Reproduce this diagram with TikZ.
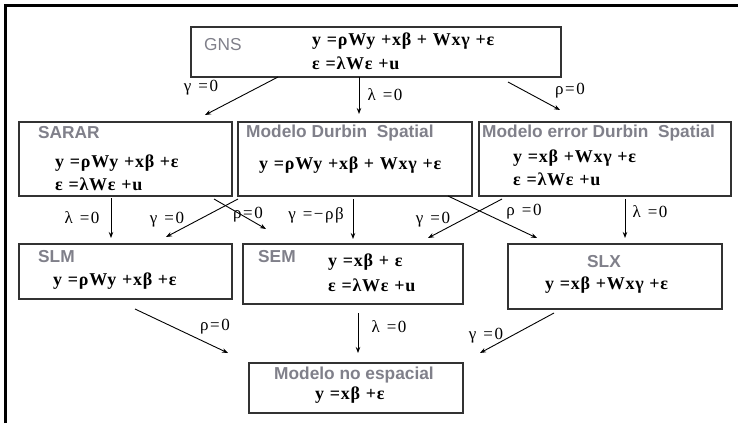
\documentclass[tikz,border=0pt]{standalone}
\usepackage{fontspec}
\setmainfont{Liberation Serif}
\newfontfamily\tsans{Liberation Sans}
\newfontfamily\eqf[LetterSpace=4,WordSpace=1.1]{Liberation Serif}
\newfontfamily\lblf[LetterSpace=9,WordSpace=1.2]{Liberation Serif}
\usetikzlibrary{arrows.meta}
\definecolor{ttlgray}{RGB}{128,128,138}
\definecolor{bxline}{RGB}{50,50,50}
\begin{document}
\begin{tikzpicture}[x=1pt,y=-1pt,
  box/.style={draw=bxline, line width=1.1pt, inner sep=0pt, outer sep=0pt},
  ttl/.style={anchor=west, inner sep=0pt, text=ttlgray, font=\tsans\bfseries\fontsize{17.3}{19}\selectfont},
  ttlr/.style={anchor=west, inner sep=0pt, text=ttlgray, font=\tsans\fontsize{17.3}{19}\selectfont},
  eq/.style={anchor=west, inner sep=0pt, font=\eqf\bfseries\fontsize{18}{20}\selectfont},
  lbl/.style={inner sep=0pt, font=\lblf\fontsize{17}{19}\selectfont},
  arr/.style={-{Stealth[length=6pt,width=4.5pt]}, line width=0.9pt}]
\useasboundingbox (0,0) rectangle (738,423);
\fill[white] (0,0) rectangle (738,423);
\draw[line width=3pt] (5.5,423) -- (5.5,5.5) -- (738,5.5);

% boxes
\node[box, minimum width=370pt, minimum height=50pt] (gns) at (376,52) {};
\node[box, minimum width=213pt, minimum height=74pt] (sarar) at (125.5,159) {};
\node[box, minimum width=234pt, minimum height=74pt] (durbin) at (355,159) {};
\node[box, minimum width=252pt, minimum height=74pt] (edurbin) at (605,159) {};
\node[box, minimum width=213pt, minimum height=55pt] (slm) at (125.5,271.5) {};
\node[box, minimum width=220pt, minimum height=60pt] (sem) at (353,274) {};
\node[box, minimum width=214pt, minimum height=65pt] (slx) at (615,276.5) {};
\node[box, minimum width=214pt, minimum height=50pt] (nonsp) at (356,388) {};

% texts
\node[ttlr] (tgns) at (204,45) {GNS};
\node[eq] (gnse1) at (312,41) {y =ρWy +xβ + Wxγ +ε};
\node[eq] (gnse2) at (312,63) {ε =λWε +u};

\node[ttl] (tsarar) at (38,133) {SARAR};
\node[eq] (sarare1) at (55,163) {y =ρWy +xβ +ε};
\node[eq] (sarare2) at (55,184) {ε =λWε +u};

\node[ttl] (tdurbin) at (246,133) {Modelo Durbin\ \ Spatial};
\node[eq] (durbine1) at (259,165) {y =ρWy +xβ + Wxγ +ε};

\node[ttl] (tedurbin) at (482,133) {Modelo error Durbin\ \ Spatial};
\node[eq] (edurbine1) at (513,158) {y =xβ +Wxγ +ε};
\node[eq] (edurbine2) at (513,179) {ε =λWε +u};

\node[ttl] (tslm) at (38,257) {SLM};
\node[eq] (slme1) at (53,281) {y =ρWy +xβ +ε};

\node[ttl] (tsem) at (258,257) {SEM};
\node[eq] (seme1) at (328,262) {y =xβ + ε};
\node[eq] (seme2) at (328,285) {ε =λWε +u};

\node[ttl] (tslx) at (587,262) {SLX};
\node[eq] (slxe1) at (545,285) {y =xβ +Wxγ +ε};

\node[ttl] (tnonsp) at (274,375) {Modelo no espacial};
\node[eq] (nonspe1) at (315,395) {y =xβ +ε};

% arrows
\draw[arr] ([xshift=87pt]gns.south west) -- ([xshift=186pt,yshift=7pt]sarar.north west);
\draw[arr] ([xshift=168pt]gns.south west) -- ([xshift=121pt,yshift=8pt]durbin.north west);
\draw[arr] ([xshift=317pt,yshift=-5pt]gns.south west) -- ([xshift=81pt,yshift=12pt]edurbin.north west);

\draw[arr] ([xshift=92pt,yshift=-2pt]sarar.south west) -- ([xshift=92pt,yshift=6pt]slm.north west);
\draw[arr] ([yshift=-3pt]durbin.south west) -- ([xshift=147pt,yshift=7pt]slm.north west);
\draw[arr] ([xshift=195pt,yshift=-3pt]sarar.south west) -- ([xshift=23pt,yshift=15pt]sem.north west);
\draw[arr] ([xshift=115pt,yshift=-3pt]durbin.south west) -- ([xshift=110pt,yshift=5pt]sem.north west);
\draw[arr] ([xshift=210pt]durbin.south west) -- ([xshift=29pt,yshift=6pt]slx.north west);
\draw[arr] ([xshift=23pt,yshift=-3pt]edurbin.south west) -- ([xshift=185pt,yshift=6pt]sem.north west);
\draw[arr] ([xshift=146pt,yshift=-3pt]edurbin.south west) -- ([xshift=117pt,yshift=6pt]slx.north west);

\draw[arr] ([xshift=116pt,yshift=-10pt]slm.south west) -- ([xshift=-21pt,yshift=10pt]nonsp.north west);
\draw[arr] ([xshift=115pt,yshift=-9pt]sem.south west) -- ([xshift=109pt,yshift=10pt]nonsp.north west);
\draw[arr] ([xshift=46pt,yshift=-4pt]slx.south west) -- ([xshift=231pt,yshift=10pt]nonsp.north west);

% labels
\node[lbl] (l1) at (201,88) {γ =0};
\node[lbl] (l2) at (385,95) {λ =0};
\node[lbl] (l3) at (570,91) {ρ=0};
\node[lbl] (l4) at (82,218) {λ =0};
\node[lbl] (l5) at (167,220) {γ =0};
\node[lbl] (l6) at (248,215) {ρ=0};
\node[lbl] (l7) at (316,215) {γ =−ρβ};
\node[lbl] (l8) at (433,220) {γ =0};
\node[lbl] (l9) at (524,212) {ρ =0};
\node[lbl] (l10) at (650,212) {λ =0};
\node[lbl] (l11) at (215,327) {ρ=0};
\node[lbl] (l12) at (389,327) {λ =0};
\node[lbl] (l13) at (486,336) {γ =0};
\end{tikzpicture}
\end{document}
